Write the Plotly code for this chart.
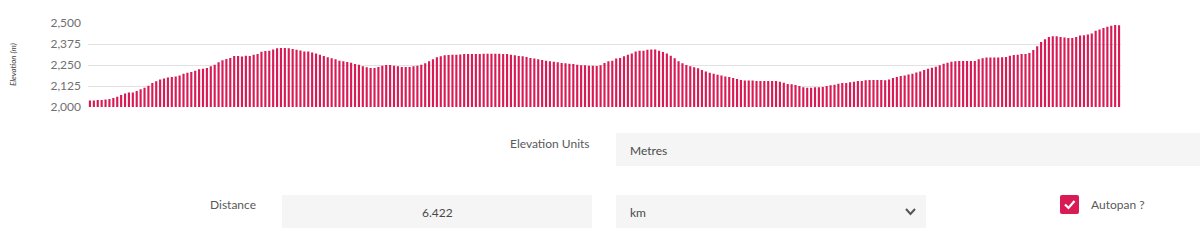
import plotly.graph_objects as go

elevation = [
    2038,2038,2042,2042,2044,2047,2053,2061,2071,2081,2087,2087,2095,2105,2115,2127,2143,2153,2163,2170,2175,2178,2182,2188,2198,2204,2208,2216,2224,2228,2232,2242,2252,2266,2278,2286,2292,2303,2303,2300,2305,2303,2311,
    2315,2329,2333,2335,2343,2349,2351,2351,2349,2345,2341,2337,2331,2331,2325,2319,2311,2303,2296,2290,2284,2276,2272,2268,2264,2256,2252,2242,2236,2232,2232,2238,2246,2250,2250,2246,2242,2238,2238,2238,2242,2246,2252,2260,2272,2284,
    2296,2302,2308,2310,2311,2311,2313,2315,2315,2315,2315,2315,2317,2317,2317,2317,2317,2315,2315,2311,2308,2303,2302,2298,2292,2288,2284,2280,2276,2272,2270,2266,2262,2260,2258,2256,2252,2248,2248,2246,2246,2244,2248,2262,2272,
    2276,2288,2292,2302,2311,2319,2331,2335,2335,2341,2343,2343,2335,2327,2319,2305,2290,2272,2260,2250,2242,2236,2230,2220,2212,2204,2198,2192,2187,2182,2178,2173,2167,2161,2157,2157,2157,2155,2155,2155,2155,2155,2155,2151,2145,2137,
    2135,2131,2125,2117,2115,2115,2117,2117,2119,2125,2129,2133,2139,2143,2143,2147,2151,2155,2155,2159,2161,2161,2161,2161,2159,2163,2173,2178,2184,2188,2194,2198,2206,2212,2220,2228,2234,2240,2248,2258,2264,2270,
    2272,2274,2274,2274,2274,2274,2284,2290,2294,2294,2294,2294,2296,2298,2305,2310,2311,2315,2315,2321,2339,2361,2387,2403,2417,2421,2421,2417,2413,2411,2411,2417,2425,2427,2431,2438,2454,2462,2470,2478,2484,2488,2486,
]
points = list(range(len(elevation)))
y_ticks = [2000, 2125, 2250, 2375, 2500]
y_tick_labels = ["2,000", "2,125", "2,250", "2,375", "2,500"]

W, H = 1200, 240
def X(px): return px / W
def Y(py): return 1 - py / H

BAR = "#d81b55"
FONT = "Lato"

fig = go.Figure(go.Bar(x=points, y=elevation, marker_color=BAR, marker_line_width=0))

fig.update_layout(
    width=W, height=H,
    margin=dict(l=0, r=0, t=0, b=0, autoexpand=False),
    paper_bgcolor="white", plot_bgcolor="white",
    bargap=0.45, showlegend=False,
    font=dict(family=FONT, color="#555"),
    xaxis=dict(domain=[X(88), X(1121)], range=[-0.5, len(points) - 0.5],
               showticklabels=False, showgrid=False, zeroline=False, fixedrange=True),
    yaxis=dict(domain=[Y(107), Y(23)], range=[2000, 2500],
               tickvals=y_ticks, ticktext=y_tick_labels,
               tickfont=dict(size=12, color="#707070", family=FONT),
               gridcolor="#e2e2e2", gridwidth=1, zeroline=False, ticks="", ticklabelstandoff=6),
)

shapes = []
ann = []

def box(x0, y0, x1, y1):
    shapes.append(dict(type="rect", xref="paper", yref="paper",
                       x0=X(x0), x1=X(x1), y0=Y(y1), y1=Y(y0),
                       fillcolor="#f5f5f5", line_width=0, layer="below"))

def text(s, px, py, anchor="left", size=12, color="#5a5a5a", **kw):
    ann.append(dict(text=s, x=X(px), y=Y(py), xref="paper", yref="paper",
                    xanchor=anchor, yanchor="middle", showarrow=False,
                    font=dict(size=size, color=color, family=FONT), **kw))

# y-axis title
text("<i>Elevation (m)</i>", 13, 65, anchor="center", size=8, color="#444", textangle=-90)

# Elevation units row
text("Elevation Units", 592, 143, anchor="right")
box(616, 133, 1200, 166)
text("Metres", 628, 150, color="#4a4a4a")

# Distance row
text("Distance", 258, 204, anchor="right")
box(282, 195, 592, 228)
text("6.422", 437, 212, anchor="center", color="#4a4a4a")
box(616, 195, 926, 228)
text("km", 628, 212, color="#4a4a4a")
# chevron
shapes.append(dict(type="path", xref="paper", yref="paper",
                   path=f"M {X(906)} {Y(209)} L {X(910.5)} {Y(214)} L {X(915)} {Y(209)}",
                   line=dict(color="#555", width=2)))

# Autopan checkbox
r = 2
x0, x1, y0, y1 = 1060, 1079, 195, 214
p = (f"M {X(x0+r)} {Y(y0)} L {X(x1-r)} {Y(y0)} Q {X(x1)} {Y(y0)} {X(x1)} {Y(y0+r)} "
     f"L {X(x1)} {Y(y1-r)} Q {X(x1)} {Y(y1)} {X(x1-r)} {Y(y1)} L {X(x0+r)} {Y(y1)} "
     f"Q {X(x0)} {Y(y1)} {X(x0)} {Y(y1-r)} L {X(x0)} {Y(y0+r)} Q {X(x0)} {Y(y0)} {X(x0+r)} {Y(y0)} Z")
shapes.append(dict(type="path", xref="paper", yref="paper", path=p, fillcolor=BAR, line_width=0))
shapes.append(dict(type="path", xref="paper", yref="paper",
                   path=f"M {X(1065)} {Y(204.5)} L {X(1068.5)} {Y(208)} L {X(1074.5)} {Y(201)}",
                   line=dict(color="white", width=2.2)))
text("Autopan ?", 1089, 204)

fig.update_layout(shapes=shapes, annotations=ann)
fig.write_html("out.html")
